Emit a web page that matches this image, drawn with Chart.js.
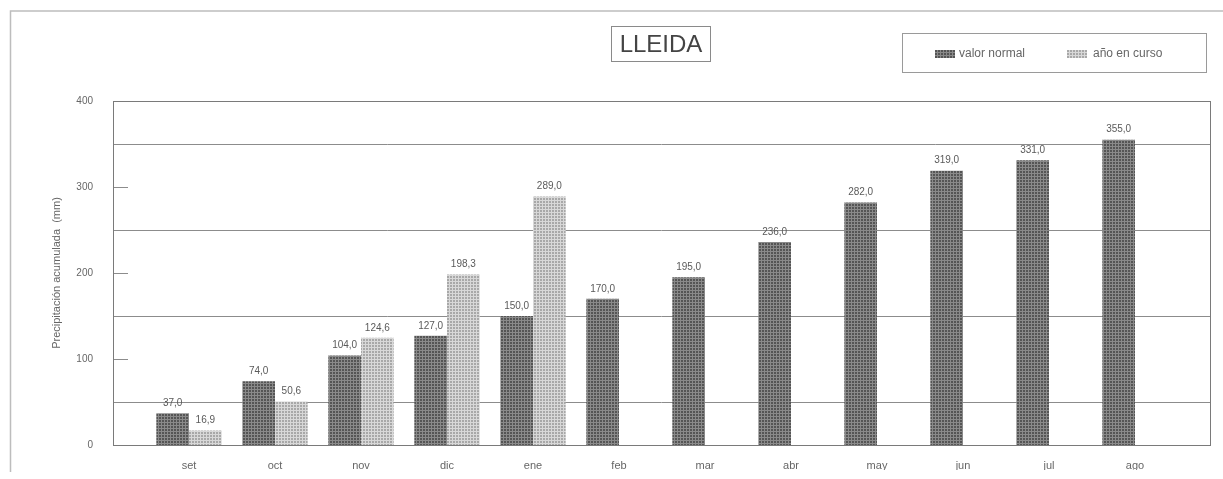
<!DOCTYPE html>
<html>
<head>
<meta charset="utf-8">
<script src="https://cdn.jsdelivr.net/npm/chart.js@4"></script>
<style>
  body { margin: 0; background: #fff; font-family: "Liberation Sans", Arial, sans-serif; }
  #wrap { position: relative; width: 1223px; height: 479px; overflow: hidden; }
  #bar-chart { position: absolute; left: 0; top: 0; }
  #titleBox {
    position: absolute; left: 611px; top: 26px; width: 98px; height: 34px;
    border: 1px solid #8a8a8a; color: #444; font-size: 24px;
    display: flex; align-items: center; justify-content: center;
  }
  #legendBox {
    position: absolute; left: 902px; top: 33px; width: 303px; height: 38px;
    border: 1px solid #9a9a9a; color: #666; font-size: 12px;
  }
  .sw { position: absolute; top: 16px; width: 20px; height: 8px; }
  .lt { position: absolute; top: 12px; }
</style>
</head>
<body>
<div id="wrap">
  <canvas id="bar-chart" width="1223" height="504"></canvas>
  <div id="titleBox">LLEIDA</div>
  <div id="legendBox">
    <span class="sw" id="sw0" style="left:32px"></span><span class="lt" id="lt0" style="left:56px"></span>
    <span class="sw" id="sw1" style="left:164px"></span><span class="lt" id="lt1" style="left:190px"></span>
  </div>
</div>
<script>
// data
const meses = ['set', 'oct', 'nov', 'dic', 'ene', 'feb', 'mar', 'abr', 'may', 'jun', 'jul', 'ago'];
const valorNormal = [37.0, 74.0, 104.0, 127.0, 150.0, 170.0, 195.0, 236.0, 282.0, 319.0, 331.0, 355.0];
const anoEnCurso = [16.9, 50.6, 124.6, 198.3, 289.0, null, null, null, null, null, null, null];
const serieNombres = ['valor normal', 'año en curso'];
const yTicks = [0, 100, 200, 300, 400];
const yGrid = [50, 150, 250, 350];

// small dotted textures like the printed bars
function makePattern(base, dot) {
    const c = document.createElement('canvas');
    c.width = 3; c.height = 3;
    const g = c.getContext('2d');
    g.fillStyle = base;
    g.fillRect(0, 0, 3, 3);
    g.fillStyle = dot;
    g.fillRect(0, 0, 2, 2);
    return c;
}
const darkTile = makePattern('#8a8a8a', '#555555');
const lightTile = makePattern('#d8d8d8', '#a8a8a8');
const ctx = document.getElementById('bar-chart').getContext('2d');
const darkFill = ctx.createPattern(darkTile, 'repeat');
const lightFill = ctx.createPattern(lightTile, 'repeat');

// legend swatches in the html box
document.getElementById('sw0').style.background = 'url(' + darkTile.toDataURL() + ')';
document.getElementById('sw1').style.background = 'url(' + lightTile.toDataURL() + ')';
document.getElementById('lt0').textContent = serieNombres[0];
document.getElementById('lt1').textContent = serieNombres[1];

const FRAME_L = 113, FRAME_R = 1210;

// frame, gridlines and short ticks behind the bars
const framePlugin = {
    id: 'framePlugin',
    beforeDatasetsDraw(chart) {
        const c = chart.ctx;
        const y = chart.scales.y;
        c.save();
        // outer page frame
        c.strokeStyle = '#bdbdbd';
        c.lineWidth = 1.5;
        c.beginPath();
        c.moveTo(10.5, 472); c.lineTo(10.5, 11); c.lineTo(1223, 11);
        c.stroke();

        c.strokeStyle = '#8c8c8c';
        c.lineWidth = 1;
        yGrid.forEach(v => {
            const py = Math.round(y.getPixelForValue(v)) + 0.5;
            c.beginPath(); c.moveTo(FRAME_L, py); c.lineTo(FRAME_R, py); c.stroke();
        });
        yTicks.slice(1, -1).forEach(v => {
            const py = Math.round(y.getPixelForValue(v)) + 0.5;
            c.beginPath(); c.moveTo(FRAME_L, py); c.lineTo(FRAME_L + 15, py); c.stroke();
        });
        const top = Math.round(y.getPixelForValue(400)) + 0.5;
        const bot = Math.round(y.getPixelForValue(0)) + 0.5;
        c.strokeStyle = '#7a7a7a';
        c.strokeRect(FRAME_L + 0.5, top, FRAME_R - FRAME_L, bot - top);
        c.restore();
    }
};

// value labels above each bar, with decimal comma
const labelPlugin = {
    id: 'labelPlugin',
    afterDatasetsDraw(chart) {
        const c = chart.ctx;
        c.save();
        c.font = '10px "Liberation Sans", Arial, sans-serif';
        c.fillStyle = '#5a5a5a';
        c.textAlign = 'center';
        c.textBaseline = 'bottom';
        chart.data.datasets.forEach((ds, i) => {
            chart.getDatasetMeta(i).data.forEach((bar, j) => {
                const v = ds.data[j];
                if (v === null) return;
                c.fillText(v.toFixed(1).replace('.', ','), bar.x, bar.y - 5);
            });
        });
        c.restore();
    }
};

new Chart(ctx, {
    type: 'bar',
    data: {
        labels: meses,
        datasets: [
            {
                label: serieNombres[0],
                data: valorNormal,
                backgroundColor: darkFill,
                borderWidth: 0
            },
            {
                label: serieNombres[1],
                data: anoEnCurso,
                backgroundColor: lightFill,
                borderWidth: 0
            }
        ]
    },
    options: {
        responsive: false,
        animation: false,
        devicePixelRatio: 1,
        categoryPercentage: 0.76,
        barPercentage: 1.0,
        layout: { padding: { left: 0, right: 45, top: 101, bottom: 9 } },
        plugins: {
            legend: { display: false },
            tooltip: { enabled: false }
        },
        scales: {
            x: {
                grid: { display: false, drawTicks: false },
                border: { display: false },
                ticks: {
                    color: '#666',
                    padding: 14,
                    font: { family: '"Liberation Sans", Arial, sans-serif', size: 11 }
                },
                afterFit(scale) { scale.height = 25; }
            },
            y: {
                min: 0,
                max: 400,
                grid: { display: false, drawTicks: false },
                border: { display: false },
                ticks: {
                    stepSize: 100,
                    color: '#666',
                    padding: 53,
                    font: { family: '"Liberation Sans", Arial, sans-serif', size: 10 }
                },
                title: {
                    display: true,
                    text: 'Precipitación acumulada  (mm)',
                    color: '#666',
                    padding: { top: 50, bottom: 0 },
                    font: { family: '"Liberation Sans", Arial, sans-serif', size: 11 }
                },
                afterFit(scale) { scale.width = 146; }
            }
        }
    },
    plugins: [framePlugin, labelPlugin]
});
</script>
</body>
</html>
